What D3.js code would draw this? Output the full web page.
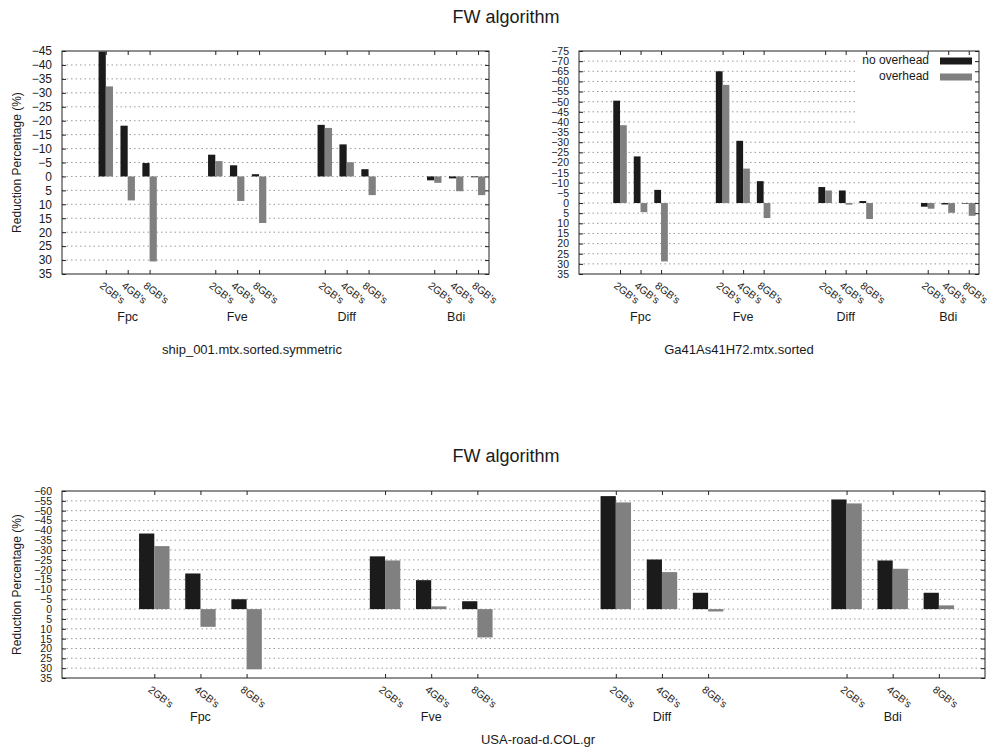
<!DOCTYPE html>
<html>
<head>
<meta charset="utf-8">
<script src="https://cdn.jsdelivr.net/npm/d3@7"></script>
<style>
  body { margin: 0; background: #fff; }
  svg { font-family: "Liberation Sans", Arial, sans-serif; }
  text { fill: #1a1a1a; }
</style>
</head>
<body>
<svg width="989" height="755"></svg>
<script>
const categories = ["Fpc", "Fve", "Diff", "Bdi"];
const sizes = ["2GB's", "4GB's", "8GB's"];
const seriesNames = ["no overhead", "overhead"];

// values (negative = up on the reversed axis)
const shipNoOverhead = [-44.8, -18.2, -4.8, -7.8, -4.0, -0.8, -18.5, -11.5, -2.6, 1.4, 0.7, 0.3];
const shipOverhead = [-32.3, 8.6, 30.5, -5.5, 8.8, 16.7, -17.4, -5.1, 6.7, 2.3, 5.3, 6.7];

const gaNoOverhead = [-50.5, -23.0, -6.5, -65.0, -30.7, -10.8, -7.9, -6.2, -1.0, 1.8, 0.7, 0.3];
const gaOverhead = [-38.4, 4.5, 28.8, -58.3, -17.0, 7.4, -6.2, 0.8, 7.9, 2.8, 4.8, 6.3];

const usaNoOverhead = [-38.4, -18.1, -5.0, -26.8, -14.7, -4.0, -57.4, -25.2, -8.3, -55.7, -24.7, -8.3];
const usaOverhead = [-32.0, 9.0, 30.6, -24.7, -1.4, 14.4, -54.2, -18.8, 1.2, -53.7, -20.5, -1.9];

const titleText = "FW algorithm";
const yLabel = "Reduction Percentage (%)";

const colors = ["#1b1b1b", "#808080"];
const barW = 0.33;

const svg = d3.select("svg");

const drawPanel = (p) => {
    let g = svg.append("g");
    let positions = [];
    categories.forEach((c, ci) => sizes.forEach((s, si) => positions.push(ci * 5 + si)));

    let x = d3.scaleLinear().domain(p.xDomain).range([p.left, p.right]);
    let y = d3.scaleLinear().domain([p.yMin, p.yMax]).range([p.top, p.bottom]);
    let yTicks = d3.range(p.yMin, p.yMax + 1, 5);

    // dotted grid
    g.append("g").selectAll("line")
        .data(yTicks.slice(1, -1))
        .join("line")
        .attr("x1", p.left).attr("x2", p.right)
        .attr("y1", d => y(d)).attr("y2", d => y(d))
        .attr("stroke", "#9a9a9a")
        .attr("stroke-width", 1)
        .attr("stroke-dasharray", "1.5,3");

    if (p.legend) {
        g.append("rect")
            .attr("x", 855).attr("y", p.top + 1)
            .attr("width", p.right - 856).attr("height", 78)
            .attr("fill", "#fff");
    }

    // bars
    let series = [p.values[0], p.values[1]];
    series.forEach((vals, si) => {
        g.append("g").selectAll("rect")
            .data(vals)
            .join("rect")
            .attr("x", (d, i) => si === 0 ? x(positions[i] - barW) : x(positions[i]))
            .attr("width", x(barW) - x(0))
            .attr("y", d => Math.min(y(d), y(0)))
            .attr("height", d => Math.abs(y(d) - y(0)))
            .attr("fill", colors[si]);
    });

    // y axes, ticks inward on both sides
    let axL = g.append("g")
        .attr("transform", `translate(${p.left},0)`)
        .call(d3.axisLeft(y).tickValues(yTicks).tickSizeInner(-4).tickSizeOuter(0).tickPadding(10).tickFormat(d3.format("d")));
    axL.select(".domain").remove();
    axL.selectAll("text").attr("font-size", p.tickFont).attr("font-family", "Liberation Sans, Arial, sans-serif");

    let axR = g.append("g")
        .attr("transform", `translate(${p.right},0)`)
        .call(d3.axisRight(y).tickValues(yTicks).tickSizeInner(-4).tickSizeOuter(0).tickFormat(""));
    axR.select(".domain").remove();

    // x axes
    let axB = g.append("g")
        .attr("transform", `translate(0,${p.bottom})`)
        .call(d3.axisBottom(x).tickValues(positions).tickSizeInner(-4).tickSizeOuter(0).tickFormat((d, i) => sizes[i % 3]));
    axB.select(".domain").remove();
    axB.selectAll("text")
        .attr("font-size", 10.5)
        .attr("font-family", "Liberation Sans, Arial, sans-serif")
        .attr("text-anchor", "start")
        .attr("x", 0).attr("y", 0).attr("dy", "0.35em")
        .attr("transform", "translate(-5,10) rotate(38)");

    let axT = g.append("g")
        .attr("transform", `translate(0,${p.top})`)
        .call(d3.axisTop(x).tickValues(positions).tickSizeInner(-4).tickSizeOuter(0).tickFormat(""));
    axT.select(".domain").remove();

    g.selectAll(".tick line").attr("stroke", "#222");

    // border
    g.append("rect")
        .attr("x", p.left).attr("y", p.top)
        .attr("width", p.right - p.left).attr("height", p.bottom - p.top)
        .attr("fill", "none").attr("stroke", "#222").attr("stroke-width", 1);

    // group labels
    g.append("g").selectAll("text")
        .data(categories)
        .join("text")
        .attr("x", (d, i) => x(i * 5 + 1))
        .attr("y", p.groupY)
        .attr("text-anchor", "middle")
        .attr("dominant-baseline", "middle")
        .attr("font-size", 12.5)
        .text(d => d);

    g.append("text")
        .attr("x", p.subX).attr("y", p.subY)
        .attr("text-anchor", "middle")
        .attr("dominant-baseline", "middle")
        .attr("font-size", 13)
        .text(p.subtitle);

    if (p.yLabel) {
        g.append("text")
            .attr("transform", `translate(18,${(p.top + p.bottom) / 2}) rotate(-90)`)
            .attr("text-anchor", "middle")
            .attr("dominant-baseline", "middle")
            .attr("font-size", 12)
            .text(yLabel);
    }

    if (p.legend) {
        let lg = g.append("g");
        seriesNames.forEach((n, i) => {
            lg.append("text")
                .attr("x", 929).attr("y", 61 + i * 16)
                .attr("text-anchor", "end")
                .attr("dominant-baseline", "middle")
                .attr("font-size", 12)
                .text(n);
            lg.append("rect")
                .attr("x", 940).attr("y", 58 + i * 16 - 0.5)
                .attr("width", 32).attr("height", 7)
                .attr("fill", colors[i]);
        });
    }
};

// titles
svg.append("text").attr("x", 506).attr("y", 18)
    .attr("text-anchor", "middle").attr("dominant-baseline", "middle")
    .attr("font-size", 18).text(titleText);
svg.append("text").attr("x", 506).attr("y", 457)
    .attr("text-anchor", "middle").attr("dominant-baseline", "middle")
    .attr("font-size", 18).text(titleText);

drawPanel({
    left: 62, right: 489, top: 51, bottom: 274,
    xDomain: [-2, 17.5], yMin: -45, yMax: 35, tickFont: 12,
    values: [shipNoOverhead, shipOverhead],
    groupY: 318, subX: 252, subY: 351,
    subtitle: "ship_001.mtx.sorted.symmetric",
    yLabel: true, legend: false
});

drawPanel({
    left: 579, right: 979, top: 51, bottom: 274,
    xDomain: [-2, 17.5], yMin: -75, yMax: 35, tickFont: 10.5,
    values: [gaNoOverhead, gaOverhead],
    groupY: 318, subX: 739, subY: 351,
    subtitle: "Ga41As41H72.mtx.sorted",
    yLabel: false, legend: true
});

drawPanel({
    left: 62, right: 985, top: 491, bottom: 678,
    xDomain: [-2, 18], yMin: -60, yMax: 35, tickFont: 10.5,
    values: [usaNoOverhead, usaOverhead],
    groupY: 718, subX: 538, subY: 741,
    subtitle: "USA-road-d.COL.gr",
    yLabel: true, legend: false
});
</script>
</body>
</html>
